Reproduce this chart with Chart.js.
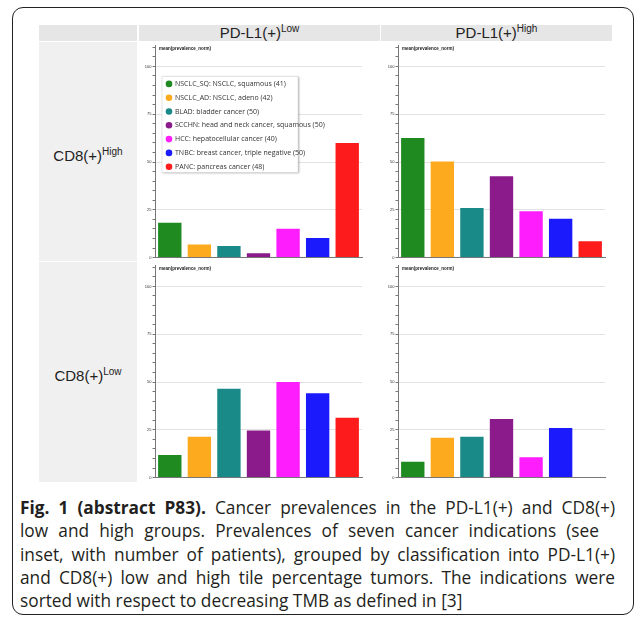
<!DOCTYPE html>
<html>
<head>
<meta charset="utf-8">
<script src="https://cdn.jsdelivr.net/npm/chart.js@4"></script>
<style>
  html, body { margin: 0; padding: 0; background: #fff; }
  #page { position: relative; width: 635px; height: 618px; overflow: hidden; font-family: "Liberation Sans", Arial, sans-serif; }
  .frame { position: absolute; left: 12px; top: 7px; width: 622px; height: 608px; box-sizing: border-box; border: 1.5px solid #222; border-radius: 11px; }
  .cell { position: absolute; box-sizing: border-box; }
  .head { background: #e6e6e6; color: #222; font-size: 15px; text-align: center; line-height: 16px; }
  .rowlab { background: #f0f0f0; color: #222; font-size: 15px; display: flex; align-items: center; justify-content: center; }
  sup { font-size: 10px; vertical-align: 6px; line-height: 0; }
  .panel { position: absolute; background: #fff; }
  .caption { position: absolute; left: 20px; top: 496px; font-family: "Open Sans", sans-serif; font-size: 17.3px; line-height: 23.3px; color: #231f20; }
  .caption div { white-space: nowrap; }
  .caption .j { text-align: justify; text-align-last: justify; white-space: normal; }
  .caption b { font-weight: 700; }
</style>
</head>
<body>
<div id="page">
  <div class="frame"></div>

  <!-- encabezados -->
  <div class="cell head" style="left:39px; top:25px; width:98px; height:16px;"></div>
  <div class="cell head" style="left:139px; top:25px; width:241px; height:16px;">PD-L1(+)<sup>Low</sup></div>
  <div class="cell head" style="left:381px; top:25px; width:231px; height:16px;">PD-L1(+)<sup>High</sup></div>

  <!-- etiquetas de fila -->
  <div class="cell rowlab" style="left:39px; top:42px; width:98px; height:219px; padding-top:8px;"><span>CD8(+)<sup>High</sup></span></div>
  <div class="cell rowlab" style="left:39px; top:262px; width:98px; height:220px; padding-top:6px;"><span>CD8(+)<sup>Low</sup></span></div>

  <!-- paneles -->
  <div class="panel" style="left:139px; top:42px; width:241px; height:219px;"><canvas id="chartLowHigh"></canvas></div>
  <div class="panel" style="left:381px; top:42px; width:231px; height:219px;"><canvas id="chartHighHigh"></canvas></div>
  <div class="panel" style="left:139px; top:262px; width:241px; height:219px;"><canvas id="chartLowLow"></canvas></div>
  <div class="panel" style="left:381px; top:262px; width:231px; height:219px;"><canvas id="chartHighLow"></canvas></div>

  <div class="caption">
    <div class="j" style="width:595px;"><b>Fig. 1 (abstract P83).</b> Cancer prevalences in the PD-L1(+) and CD8(+)</div>
    <div class="j" style="width:579px;">low and high groups. Prevalences of seven cancer indications (see</div>
    <div class="j" style="width:595px;">inset, with number of patients), grouped by classification into PD-L1(+)</div>
    <div class="j" style="width:595px;">and CD8(+) low and high tile percentage tumors. The indications were</div>
    <div>sorted with respect to decreasing TMB as defined in [3]</div>
  </div>
</div>

<script>
// Indicaciones (ordenadas por TMB decreciente)
const categories = ['NSCLC_SQ', 'NSCLC_AD', 'BLAD', 'SCCHN', 'HCC', 'TNBC', 'PANC'];
const categoryNames = ['NSCLC, squamous', 'NSCLC, adeno', 'bladder cancer', 'head and neck cancer, squamous',
                       'hepatocellular cancer', 'breast cancer, triple negative', 'pancreas cancer'];
const patientCounts = [41, 42, 50, 50, 40, 50, 48];

// mean(prevalence_norm) por panel
const pdl1LowCd8High  = [18.2, 6.9, 6.1, 2.3, 15.1, 10.2, 59.9];
const pdl1HighCd8High = [62.5, 50.3, 26.0, 42.5, 24.3, 20.3, 8.5];
const pdl1LowCd8Low   = [11.8, 21.4, 46.5, 24.7, 50.0, 44.1, 31.3];
const pdl1HighCd8Low  = [8.3, 20.8, 21.4, 30.7, 10.6, 25.9, 0.3];

// Ejes
const yTicks = [0, 25, 50, 75, 100];
const yMinorStep = 5;
const yMax = 111;
const yTitle = 'mean(prevalence_norm)';

const barColors = ['#1f8a1f', '#fdaa1e', '#1a8a88', '#8b1a8a', '#fd1dfd', '#1a1afd', '#fd1b1b'];

// Etiqueta del eje y (arriba a la izquierda)
const axisTitlePlugin = {
    id: 'axisTitle',
    afterDraw(chart) {
        const { ctx, chartArea } = chart;
        ctx.save();
        ctx.fillStyle = '#222';
        ctx.font = 'bold 4.5px "Liberation Sans", Arial, sans-serif';
        ctx.textBaseline = 'middle';
        ctx.fillText(yTitle, chartArea.left + 4, chartArea.top + 3.5);
        ctx.restore();
    }
};

// Leyenda dentro del primer panel
const insetLegendPlugin = {
    id: 'insetLegend',
    afterDraw(chart) {
        const { ctx, chartArea } = chart;
        const x = chartArea.left + 7;
        const y = chartArea.top + 31;
        const w = 136, h = 96;
        ctx.save();
        ctx.shadowColor = 'rgba(0,0,0,0.35)';
        ctx.shadowOffsetX = 1;
        ctx.shadowOffsetY = 1;
        ctx.shadowBlur = 2;
        ctx.fillStyle = '#fff';
        ctx.fillRect(x, y, w, h);
        ctx.shadowColor = 'transparent';
        ctx.strokeStyle = '#d8d8d8';
        ctx.lineWidth = 0.6;
        ctx.strokeRect(x, y, w, h);
        ctx.font = '7px "Open Sans", sans-serif';
        ctx.textBaseline = 'middle';
        categories.forEach((code, i) => {
            const cy = y + 7.5 + i * 13.8;
            ctx.beginPath();
            ctx.arc(x + 7, cy, 3.3, 0, Math.PI * 2);
            ctx.fillStyle = barColors[i];
            ctx.fill();
            ctx.fillStyle = '#333';
            ctx.fillText(`${code}: ${categoryNames[i]} (${patientCounts[i]})`, x + 13, cy);
        });
        ctx.restore();
    }
};

function createPanel(canvasId, values, rightPad, axisWidth, withLegend) {
    const ctx = document.getElementById(canvasId).getContext('2d');
    const plugins = [axisTitlePlugin];
    if (withLegend) plugins.push(insetLegendPlugin);

    return new Chart(ctx, {
        type: 'bar',
        data: {
            labels: categories,
            datasets: [{
                data: values,
                backgroundColor: barColors,
                borderWidth: 0,
                categoryPercentage: 1,
                barPercentage: 0.79
            }]
        },
        plugins: plugins,
        options: {
            responsive: true,
            maintainAspectRatio: false,
            animation: false,
            layout: { padding: { top: 3, right: rightPad, bottom: 3, left: 0 } },
            plugins: {
                legend: { display: false },
                tooltip: { enabled: false }
            },
            scales: {
                x: {
                    grid: { display: false },
                    ticks: { display: false },
                    border: { display: true, color: '#777', width: 1 },
                    afterFit: scale => { scale.height = 0; }
                },
                y: {
                    min: 0,
                    max: yMax,
                    afterBuildTicks: scale => {
                        const ticks = [];
                        for (let v = 0; v <= yMax; v += yMinorStep) ticks.push({ value: v });
                        scale.ticks = ticks;
                    },
                    afterFit: scale => { scale.width = axisWidth; },
                    grid: {
                        color: c => (c.tick && yTicks.includes(c.tick.value) && c.tick.value > 0) ? '#e2e2e2' : 'rgba(0,0,0,0)',
                        tickColor: '#777',
                        tickLength: 2.5,
                        lineWidth: 1
                    },
                    border: { display: true, color: '#777', width: 1 },
                    ticks: {
                        autoSkip: false,
                        padding: 1,
                        color: '#333',
                        font: { size: 4, family: '"Liberation Sans", Arial, sans-serif' },
                        callback: value => yTicks.includes(value) ? value : ''
                    }
                }
            }
        }
    });
}

createPanel('chartLowHigh', pdl1LowCd8High, 18, 16, true);
createPanel('chartHighHigh', pdl1HighCd8High, 7, 17, false);
createPanel('chartLowLow', pdl1LowCd8Low, 18, 16, false);
createPanel('chartHighLow', pdl1HighCd8Low, 7, 17, false);
</script>
</body>
</html>
